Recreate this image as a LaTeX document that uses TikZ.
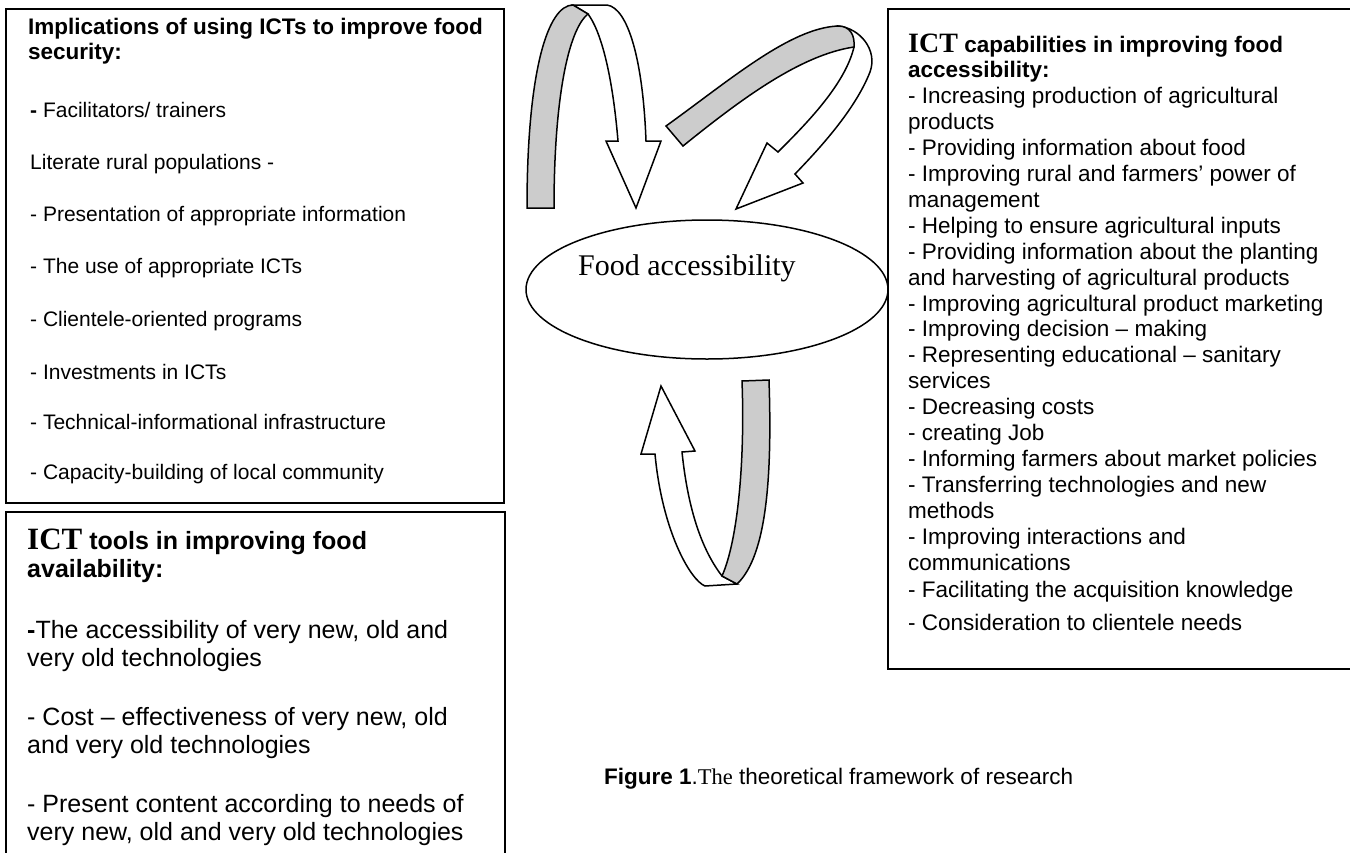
\documentclass[tikz,border=0pt]{standalone}
\usepackage{fontspec}
\setmainfont{Liberation Sans}
\newfontfamily\tms{Liberation Serif}
\usetikzlibrary{shapes.geometric}
\tikzset{
  boxline/.style={draw=black, line width=2pt},
  ribbon/.style={draw=black, line width=1.5pt, line join=miter},
  grayband/.style={ribbon, fill=black!20},
  whiteband/.style={ribbon, fill=white},
  ta/.style={anchor=base west, inner sep=0pt, font=\fontsize{21}{24}\selectfont},
  tah/.style={anchor=base west, inner sep=0pt, font=\fontsize{22.5}{25}\selectfont\bfseries},
  tb/.style={anchor=base west, inner sep=0pt, font=\fontsize{25}{28}\selectfont},
  tr/.style={anchor=base west, inner sep=0pt, font=\fontsize{22.5}{26}\selectfont},
  capt/.style={anchor=base west, inner sep=0pt, font=\fontsize{22.5}{25}\selectfont},
}
\begin{document}
\begin{tikzpicture}[x=1pt,y=-1pt]
\useasboundingbox (0,0) rectangle (1350,852);
\fill[white] (0,0) rectangle (1350,852);

% boxes
\draw[boxline] (6,9) rectangle (504,503);
\draw[boxline] (6,512) rectangle (505,870);
\draw[boxline] (888,9) rectangle (1370,669);

% box 1 text
\node[tah] (a0) at (28,34) {Implications of using ICTs to improve food};
\node[tah] (a1) at (28,59) {security:};
\node[ta] (a2) at (30,117) {{\bfseries -} Facilitators/ trainers};
\node[ta] (a3) at (30,169) {Literate rural populations -};
\node[ta] (a4) at (30,221) {- Presentation of appropriate information};
\node[ta] (a5) at (30,273) {- The use of appropriate ICTs};
\node[ta] (a6) at (30,326) {- Clientele-oriented programs};
\node[ta] (a7) at (30,379) {- Investments in ICTs};
\node[ta] (a8) at (30,429) {- Technical-informational infrastructure};
\node[ta] (a9) at (30,479) {- Capacity-building of local community};

% box 2 text
\node[tb] (b0) at (27,549) {{\tms\bfseries\fontsize{31}{31}\selectfont ICT} {\bfseries tools in improving food}};
\node[tb] (b1) at (27,577) {\bfseries availability:};
\node[tb] (b2) at (27,638) {{\bfseries -}The accessibility of very new, old and};
\node[tb] (b3) at (27,666) {very old technologies};
\node[tb] (b4) at (27,725) {- Cost – effectiveness of very new, old};
\node[tb] (b5) at (27,753) {and very old technologies};
\node[tb] (b6) at (27,812) {- Present content according to needs of};
\node[tb] (b7) at (27,840) {very new, old and very old technologies};

% right box text
\node[tr] (r0) at (908,52) {{\tms\bfseries\fontsize{28}{28}\selectfont ICT} {\bfseries capabilities in improving food}};
\node[tr] (r1) at (908,77.9) {\bfseries accessibility:};
\node[tr] (r2) at (908,103.8) {- Increasing production of agricultural};
\node[tr] (r3) at (908,129.7) {products};
\node[tr] (r4) at (908,155.6) {- Providing information about food};
\node[tr] (r5) at (908,181.5) {- Improving rural and farmers’ power of};
\node[tr] (r6) at (908,207.4) {management};
\node[tr] (r7) at (908,233.3) {- Helping to ensure agricultural inputs};
\node[tr] (r8) at (908,259.2) {- Providing information about the planting};
\node[tr] (r9) at (908,285.1) {and harvesting of agricultural products};
\node[tr] (r10) at (908,311) {- Improving agricultural product marketing};
\node[tr] (r11) at (908,336.9) {- Improving decision – making};
\node[tr] (r12) at (908,362.8) {- Representing educational – sanitary};
\node[tr] (r13) at (908,388.7) {services};
\node[tr] (r14) at (908,414.6) {- Decreasing costs};
\node[tr] (r15) at (908,440.5) {- creating Job};
\node[tr] (r16) at (908,466.4) {- Informing farmers about market policies};
\node[tr] (r17) at (908,492.3) {- Transferring technologies and new};
\node[tr] (r18) at (908,518.2) {methods};
\node[tr] (r19) at (908,544.1) {- Improving interactions and};
\node[tr] (r20) at (908,570) {communications};
\node[tr] (r21) at (908,597) {- Facilitating the acquisition knowledge};
\node[tr] (r22) at (908,630) {- Consideration to clientele needs};

% ellipse
\node[draw=black, line width=1.5pt, ellipse, minimum width=362pt, minimum height=139pt, inner sep=0pt] (ell) at (707,289.5) {};
\node[anchor=base west, inner sep=0pt, font=\tms\fontsize{30}{30}\selectfont] (elltxt) at (578,275) {Food accessibility};

% arrow 1 (top left U-turn)
\draw[whiteband] (573,5) -- (607,5) .. controls (628,8) and (643,60) .. (646,141) -- (661,141) -- (636,208) -- (606,141) -- (618,141) .. controls (612,70) and (600,30) .. (588,14) -- cycle;
\draw[grayband] (527,208) .. controls (527,70) and (548,5) .. (573,5) -- (588,14) .. controls (568,30) and (554,100) .. (554,208) -- cycle;

% arrow 2 (top right)
\draw[whiteband] (838,26) .. controls (860,28) and (878,50) .. (870,72) .. controls (855,110) and (820,148) .. (795,174) -- (803,183) -- (736,209) -- (767,143) -- (778,152) .. controls (805,125) and (845,85) .. (854,47) -- cycle;
\draw[grayband] (666,126) .. controls (730,80) and (790,28) .. (838,26) .. controls (850,26) and (855,35) .. (854,47) .. controls (800,55) and (740,100) .. (683,146) -- cycle;

% arrow 3 (bottom)
\draw[whiteband] (722,576) -- (737,584) -- (705,586) .. controls (690,580) and (662,530) .. (655,454) -- (641,454) -- (661,386) -- (695,451) -- (682,452) .. controls (688,510) and (702,550) .. (722,576) -- cycle;
\draw[grayband] (742,381) -- (769,380) .. controls (772,470) and (768,555) .. (737,584) -- (722,576) .. controls (738,540) and (745,460) .. (742,381) -- cycle;

% caption
\node[capt] (cap) at (604,784) {{\bfseries Figure 1}.{\tms The} theoretical framework of research};
\end{tikzpicture}
\end{document}
